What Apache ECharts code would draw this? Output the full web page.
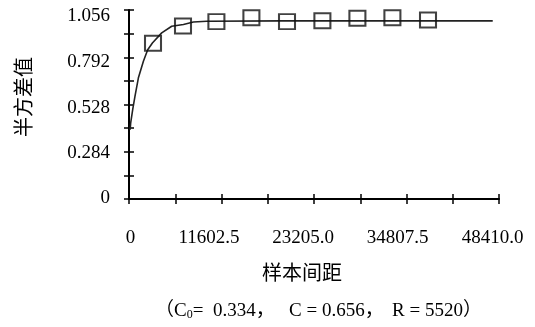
<!DOCTYPE html>
<html>
<head>
<meta charset="utf-8">
<script src="https://cdn.jsdelivr.net/npm/echarts@6/dist/echarts.min.js"></script>
<style>html,body{margin:0;padding:0;background:#fff}#c{width:535px;height:327px}</style>
</head>
<body>
<div id="c"></div>
<script>
// ---- data ----
const xTickLabels = ["0", "11602.5", "23205.0", "34807.5", "48410.0"];
const yTickLabels = ["0", "0.284", "0.528", "0.792", "1.056"];
const xMax = 48410;
const yMax = 1.056;
// experimental semivariance points (square markers)
const lagDistance = [3140, 7065, 11436, 16015, 20673, 25304, 29884, 34463, 39121];
const semivariance = [0.870, 0.967, 0.991, 1.013, 0.991, 0.996, 1.010, 1.013, 1.000];
// fitted model curve
const modelX = [150, 222, 484, 785, 1230, 1884, 2447, 3062, 4279, 5587, 7118, 8426, 10166, 20000, 47590];
const modelY = [0.387, 0.426, 0.500, 0.575, 0.677, 0.770, 0.834, 0.872, 0.928, 0.965, 0.975, 0.989, 0.993, 0.995, 0.995];
const xName = "样本间距";
const yName = "半方差值";
const captionParts = ["（C", "0", "=  0.334，", "C = 0.656，", "R = 5520）"];

const SERIF = "'Liberation Serif','Times New Roman','Noto Sans CJK SC',serif";
const FS = 19;
const chart = echarts.init(document.getElementById('c'), null, {renderer: 'canvas'});

const xStep = xMax / 8;
const yStep = yMax / 8;

const xRich = {
  x0: {padding: [0, 0, 0, 3]},
  x1: {padding: [0, 25, 0, 0]},
  x2: {padding: [0, 22, 0, 0]},
  x3: {padding: [0, 18, 0, 0]},
  x4: {padding: [0, 13, 0, 0]}
};
const yRich = {
  y0: {padding: [0, 0, 2, 0]},
  y1: {padding: [3, 0, 0, 0]},
  y2: {padding: [7, 0, 0, 0]},
  y3: {padding: [10, 0, 0, 0]},
  y4: {padding: [13, 0, 0, 0]}
};
Object.values(xRich).forEach(s => { s.fontFamily = SERIF; s.fontSize = FS; s.color = '#000'; });
Object.values(yRich).forEach(s => { s.fontFamily = SERIF; s.fontSize = FS; s.color = '#000'; });

function idxOf(v, step) {
  const r = v / step;
  const k = Math.round(r);
  return Math.abs(r - k) < 1e-6 ? k : -1;
}

const capStyle = {fontFamily: SERIF, fontSize: FS, fill: '#000', color: '#000', verticalAlign: 'bottom', height: 22};

const option = {
  backgroundColor: '#fff',
  animation: false,
  grid: {left: 129, right: 36, top: 10, bottom: 128, containLabel: false},
  xAxis: [{
    type: 'value', min: 0, max: xMax, interval: xStep, position: 'bottom',
    axisLine: {onZero: false, lineStyle: {color: '#000', width: 2}},
    axisTick: {inside: false, length: 5, lineStyle: {color: '#000', width: 1.5}},
    splitLine: {show: false},
    axisLabel: {
      margin: 30, color: '#000', fontFamily: SERIF, fontSize: FS,
      showMinLabel: true, showMaxLabel: true,
      formatter: function (v) {
        const k = idxOf(v, 2 * xStep);
        return k >= 0 ? '{x' + k + '|' + xTickLabels[k] + '}' : '';
      },
      rich: xRich
    },
    name: xName, nameLocation: 'middle', nameGap: 66,
    nameTextStyle: {color: '#000', fontFamily: SERIF, fontSize: 20, padding: [0, 24, 0, 0]}
  }, {
    type: 'value', min: 0, max: xMax, interval: xStep, position: 'bottom', offset: 0,
    axisLine: {show: false},
    axisTick: {inside: true, length: 5, lineStyle: {color: '#000', width: 1.5}},
    axisLabel: {show: false}, splitLine: {show: false}
  }],
  yAxis: [{
    type: 'value', min: 0, max: yMax, interval: yStep, position: 'left',
    axisLine: {onZero: false, lineStyle: {color: '#000', width: 2}},
    axisTick: {inside: false, length: 5, lineStyle: {color: '#000', width: 1.5}},
    splitLine: {show: false},
    axisLabel: {
      margin: 19, color: '#000', fontFamily: SERIF, fontSize: FS,
      showMinLabel: true, showMaxLabel: true,
      formatter: function (v) {
        const k = idxOf(v, 2 * yStep);
        return k >= 0 ? '{y' + k + '|' + yTickLabels[k] + '}' : '';
      },
      rich: yRich
    },
    name: yName, nameLocation: 'middle', nameGap: 93, nameRotate: 90,
    nameTextStyle: {color: '#000', fontFamily: SERIF, fontSize: 20, padding: [0, 0, 0, 15]}
  }, {
    type: 'value', min: 0, max: yMax, interval: yStep, position: 'left', offset: 0,
    axisLine: {show: false},
    axisTick: {inside: true, length: 5, lineStyle: {color: '#000', width: 1.5}},
    axisLabel: {show: false}, splitLine: {show: false}
  }],
  graphic: [{
    type: 'text', left: 155, top: 302,
    style: {
      text: '{a|' + captionParts[0] + '}{s|' + captionParts[1] + '}{a|' + captionParts[2] + '}',
      rich: {
        a: capStyle,
        s: {fontFamily: SERIF, fontSize: 12, fill: '#000', color: '#000', verticalAlign: 'bottom', height: 22, padding: [0, 0, -3, 0]}
      }
    }
  }, {
    type: 'text', left: 289, top: 302,
    style: {text: '{a|' + captionParts[3] + '}', rich: {a: capStyle}}
  }, {
    type: 'text', left: 392, top: 302,
    style: {text: '{a|' + captionParts[4] + '}', rich: {a: capStyle}}
  }],
  series: [{
    type: 'line',
    xAxisIndex: 0, yAxisIndex: 0,
    data: modelX.map((x, i) => [x, modelY[i]]),
    showSymbol: false, symbol: 'none', smooth: false,
    lineStyle: {color: '#222', width: 1.6},
    z: 2
  }, {
    type: 'scatter',
    xAxisIndex: 0, yAxisIndex: 0,
    data: lagDistance.map((x, i) => [x, semivariance[i]]),
    symbol: 'rect', symbolSize: [16, 15],
    itemStyle: {color: 'rgba(0,0,0,0)', borderColor: '#111', borderWidth: 2},
    z: 3
  }]
};
chart.setOption(option);
</script>
</body>
</html>
